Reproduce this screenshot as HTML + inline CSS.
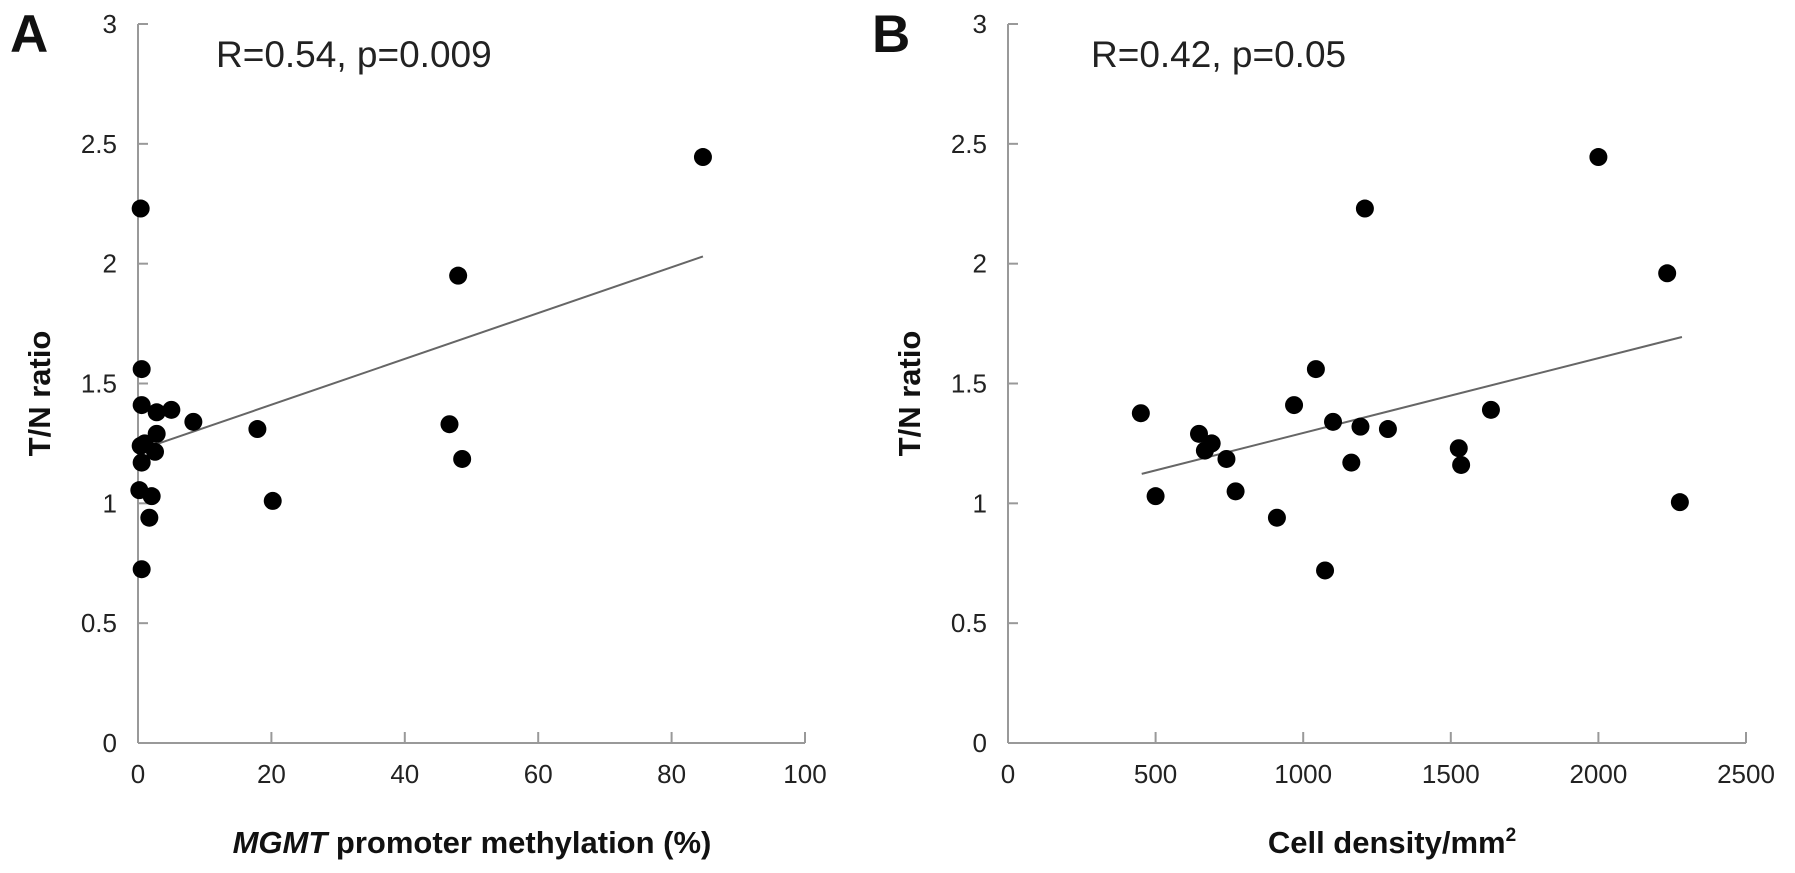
<!DOCTYPE html>
<html><head><meta charset="utf-8">
<style>
html,body{margin:0;padding:0;background:#fff;}
svg{display:block;font-family:"Liberation Sans",Arial,sans-serif;}
</style></head>
<body>
<svg id="chart" width="1795" height="873" viewBox="0 0 1795 873" xmlns="http://www.w3.org/2000/svg"></svg>
<script>
const yTicks = [0, 0.5, 1, 1.5, 2, 2.5, 3];
const yTickLabels = ["0", "0.5", "1", "1.5", "2", "2.5", "3"];
const aXTicks = [0, 20, 40, 60, 80, 100];
const aXTickLabels = ["0", "20", "40", "60", "80", "100"];
const bXTicks = [0, 500, 1000, 1500, 2000, 2500];
const bXTickLabels = ["0", "500", "1000", "1500", "2000", "2500"];
const aX = [0.4, 0.55, 0.55, 2.8, 5.0, 8.3, 17.9, 2.8, 0.4, 1.0, 2.55, 0.55, 0.2, 2.05, 1.7, 20.2, 0.55, 46.7, 48.0, 48.6, 84.7];
const aY = [2.23, 1.56, 1.41, 1.38, 1.39, 1.34, 1.31, 1.29, 1.24, 1.25, 1.215, 1.17, 1.055, 1.03, 0.94, 1.01, 0.725, 1.33, 1.95, 1.185, 2.445];
const aTrendX = [2.5, 84.7];
const aTrendY = [1.244, 2.03];
const bX = [450, 500, 647, 667, 690, 740, 771, 911, 969, 1043, 1074, 1101, 1163, 1194, 1209, 1287, 1527, 1535, 1636, 2000, 2233, 2276];
const bY = [1.376, 1.03, 1.29, 1.22, 1.25, 1.185, 1.05, 0.94, 1.41, 1.56, 0.72, 1.34, 1.17, 1.32, 2.23, 1.31, 1.23, 1.16, 1.39, 2.445, 1.96, 1.005];
const bTrendX = [453, 2283];
const bTrendY = [1.123, 1.694];

const NS = "http://www.w3.org/2000/svg";
const svg = document.getElementById("chart");
function mk(tag, attrs, parent, text) {
  const e = document.createElementNS(NS, tag);
  for (const k in attrs) e.setAttribute(k, attrs[k]);
  if (text !== undefined) e.textContent = text;
  (parent || svg).appendChild(e);
  return e;
}
const Y0 = 743, Y3 = 24;
function yScale(v) { return Y0 + (Y3 - Y0) * v / 3; }

function panel(cfg) {
  const g = mk("g", {});
  
  
  const xs = v => cfg.x0 + (cfg.x1 - cfg.x0) * (v - cfg.xmin) / (cfg.xmax - cfg.xmin);
  const ya = mk("line", {x1: cfg.x0, y1: Y3, x2: cfg.x0, y2: Y0, stroke: "#999", "stroke-width": 2}, g);
  
  
  const xa = mk("line", {x1: cfg.x0, y1: Y0, x2: cfg.x1, y2: Y0, stroke: "#999", "stroke-width": 2}, g);
  
  
  yTicks.forEach((t, i) => {
    const y = yScale(t);
    if (i > 0) {
      const tk = mk("line", {x1: cfg.x0, y1: y, x2: cfg.x0 + 10, y2: y, stroke: "#999", "stroke-width": 2}, g);
      
      
    }
    const lb = mk("text", {x: cfg.x0 - 21, y: y + 9, "text-anchor": "end", "font-size": 26, fill: "#222"}, g, yTickLabels[i]);
    
    
  });
  cfg.xticks.forEach((t, i) => {
    const x = xs(t);
    if (i > 0) {
      const tk = mk("line", {x1: x, y1: Y0, x2: x, y2: Y0 - 11, stroke: "#999", "stroke-width": 2}, g);
      
      
    }
    const lb = mk("text", {x: x, y: 783, "text-anchor": "middle", "font-size": 26, fill: "#222"}, g, cfg.xlabels[i]);
    
    
  });
  const tl = mk("line", {x1: xs(cfg.tx[0]), y1: yScale(cfg.ty[0]), x2: xs(cfg.tx[1]), y2: yScale(cfg.ty[1]), stroke: "#666", "stroke-width": 2}, g);
  
  
  cfg.px.forEach((v, i) => {
    const c = mk("circle", {cx: xs(v), cy: yScale(cfg.py[i]), r: 9, fill: "#000"}, g);
    
    
  });
  const yt = mk("text", {x: 0, y: 0, transform: `translate(${cfg.x0 - 88},${(Y0 + Y3) / 2 + 10}) rotate(-90)`, "text-anchor": "middle", "font-size": 31, "font-weight": "bold", fill: "#111"}, g, "T/N ratio");
  
  
  const pl = mk("text", {x: cfg.letterX, y: 52, "font-size": 53, "font-weight": "bold", fill: "#111"}, g, cfg.letter);
  
  
  const an = mk("text", {x: cfg.annX, y: 67, "font-size": 37, fill: "#222"}, g, cfg.ann);
  
  
  return {g, xs};
}

const A = panel({name: "panel-a", x0: 138, x1: 805, xmin: 0, xmax: 100, xticks: aXTicks, xlabels: aXTickLabels,
  px: aX, py: aY, tx: aTrendX, ty: aTrendY, letter: "A", letterX: 10, ann: "R=0.54, p=0.009", annX: 216});
const B = panel({name: "panel-b", x0: 1008, x1: 1746, xmin: 0, xmax: 2500, xticks: bXTicks, xlabels: bXTickLabels,
  px: bX, py: bY, tx: bTrendX, ty: bTrendY, letter: "B", letterX: 872, ann: "R=0.42, p=0.05", annX: 1091});

const xtA = mk("text", {x: 472, y: 853, "text-anchor": "middle", "font-size": 31, "font-weight": "bold", fill: "#111"}, A.g);


mk("tspan", {"font-style": "italic"}, xtA, "MGMT");
mk("tspan", {}, xtA, " promoter methylation (%)");

const xtB = mk("text", {x: 1392, y: 853, "text-anchor": "middle", "font-size": 31, "font-weight": "bold", fill: "#111"}, B.g);


mk("tspan", {}, xtB, "Cell density/mm");
mk("tspan", {"font-size": 19, dy: -12}, xtB, "2");
</script>
</body></html>
